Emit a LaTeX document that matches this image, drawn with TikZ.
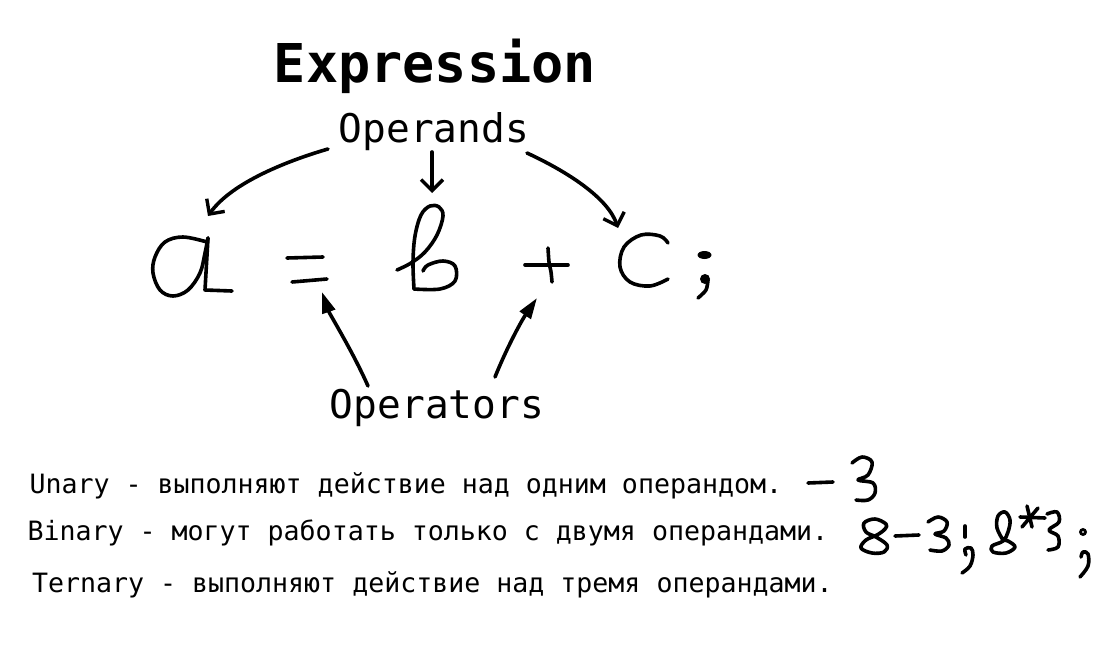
\documentclass[tikz,border=0pt]{standalone}
\usepackage{fontspec}
\setmonofont{DejaVu Sans Mono}
\usetikzlibrary{arrows.meta}
\tikzset{
  hand/.style={line width=3.6pt, line cap=round, line join=round},
  lbl/.style={inner sep=0pt, outer sep=0pt, font=\ttfamily},
  barbarrow/.style={hand, -{Straight Barb[length=11pt,width=22pt,line width=3.4pt]}},
  triarrow/.style={hand, -{Triangle[length=21pt,width=13pt]}},
}
\begin{document}
\begin{tikzpicture}[x=1pt,y=-1pt]
\useasboundingbox (0,0) rectangle (1119,664);
\fill[white] (0,0) rectangle (1119,664);

% titles
\node[lbl, anchor=base, font=\fontsize{53.5}{60}\selectfont\ttfamily\bfseries] (title) at (435,82) {Expression};
\node[lbl, anchor=base, font=\fontsize{39.5}{44}\selectfont\ttfamily] (operands) at (434,142) {Operands};
\node[lbl, anchor=base, font=\fontsize{39.5}{44}\selectfont\ttfamily] (operators) at (437,418) {Operators};

% bottom lines
\node[lbl, anchor=base west, font=\fontsize{26.6}{30}\selectfont\ttfamily] (unary) at (29.5,493) {Unary - выполняют действие над одним операндом.};
\node[lbl, anchor=base west, font=\fontsize{26.6}{30}\selectfont\ttfamily] (binary) at (27.5,540) {Binary - могут работать только с двумя операндами.};
\node[lbl, anchor=base west, font=\fontsize{26.6}{30}\selectfont\ttfamily] (ternary) at (32,592) {Ternary - выполняют действие над тремя операндами.};

% hand-drawn expression: a = b + c ;
% a
\draw[hand] plot[smooth, tension=0.6] coordinates {(207,242) (183,237) (165,242) (155,257) (153,273) (160,290) (173,296) (188,290) (200,273) (205,253) (208,238)};
\draw[hand] (208,238) -- (205,290) -- (232,291);
% =
\draw[hand] (287,258) -- (323,257);
\draw[hand] (292,282) -- (327,279);
% b
\draw[hand] plot[smooth, tension=0.6] coordinates {(397,270) (411,263) (425,252) (437,235) (443,216) (439,207) (430,206) (421,215) (415,236) (413,262) (414,289)};
\draw[hand] plot[smooth, tension=0.6] coordinates {(414,289) (440,289) (455,281) (455,266) (443,261) (428,265) (423,271)};
% +
\draw[hand] (525,265) -- (568,265);
\draw[hand] plot[smooth] coordinates {(548,248) (549,262) (551,272) (552,282)};
% c
\draw[hand] plot[smooth, tension=0.6] coordinates {(668,243) (660,236) (641,235) (624,247) (620,267) (630,282) (650,286) (668,279)};
% ;
\fill (704.5,255) ellipse [x radius=7pt, y radius=4pt];
\fill (705,279) circle [radius=5pt];
\draw[hand] plot[smooth] coordinates {(708,280) (706,290) (698,298)};

% anchor coordinates for arrows
\coordinate (opL) at (328,149);
\coordinate (opM) at (432,152);
\coordinate (opR) at (527,153);
\coordinate (tipA) at (208,216);
\coordinate (tipB) at (432,193);
\coordinate (tipC) at (618,228);
\coordinate (orL) at (368,386);
\coordinate (orR) at (495,377);
\coordinate (tipEq) at (322,292);
\coordinate (tipPlus) at (537,298);

% operand arrows
\draw[barbarrow] (opL) .. controls (290,160) and (232,182) .. (tipA);
\draw[barbarrow] (opM) -- (tipB);
\draw[barbarrow] (opR) .. controls (568,172) and (608,198) .. (tipC);
% operator arrows
\draw[triarrow] (orL) .. controls (352,350) and (330,315) .. (tipEq);
\draw[triarrow] (orR) .. controls (508,345) and (522,320) .. (tipPlus);

% handwritten examples
% unary: -3
\draw[hand] (808,483) -- (833,482);
\draw[hand] plot[smooth, tension=0.6] coordinates {(852,463) (862,457) (872,462) (868,475) (858,480) (873,483) (875,493) (868,500) (856,500)};
% binary: 8-3;
\draw[hand] plot[smooth cycle, tension=0.6] coordinates {(886,524) (875,519) (864,523) (866,532) (876,537) (887,545) (884,552) (872,553) (861,548) (866,540) (877,535) (885,529)};
\draw[hand] (895,536) -- (919,535);
\draw[hand] plot[smooth, tension=0.6] coordinates {(928,522) (938,517) (947,522) (944,531) (935,534) (946,538) (949,545) (942,551) (930,550)};
\draw[hand] (965,526) -- (965,537);
\draw[hand] plot[smooth, tension=0.6] coordinates {(966,555) (965,549) (971,548) (973,555) (970,566) (962,573)};
% 8*3;
\draw[hand] plot[smooth, tension=0.6] coordinates {(1003,540) (997,528) (998,516) (1005,512) (1010,520) (1008,532) (1003,541) (992,546) (993,552) (1006,553) (1015,547) (1008,541) (1003,540)};
\draw[hand] (1022,527) -- (1038,508);
\draw[hand] (1027,506) -- (1032,527);
\draw[hand] (1020,517) -- (1045,518);
\draw[hand] plot[smooth, tension=0.6] coordinates {(1047,514) (1057,512) (1059,522) (1049,530) (1058,536) (1058,547) (1048,550)};
\draw[line width=2.8pt] (1083,532) circle [radius=2.5pt];
\draw[hand] plot[smooth, tension=0.6] coordinates {(1081,557) (1083,552) (1088,554) (1088,566) (1080,577)};
\end{tikzpicture}
\end{document}
